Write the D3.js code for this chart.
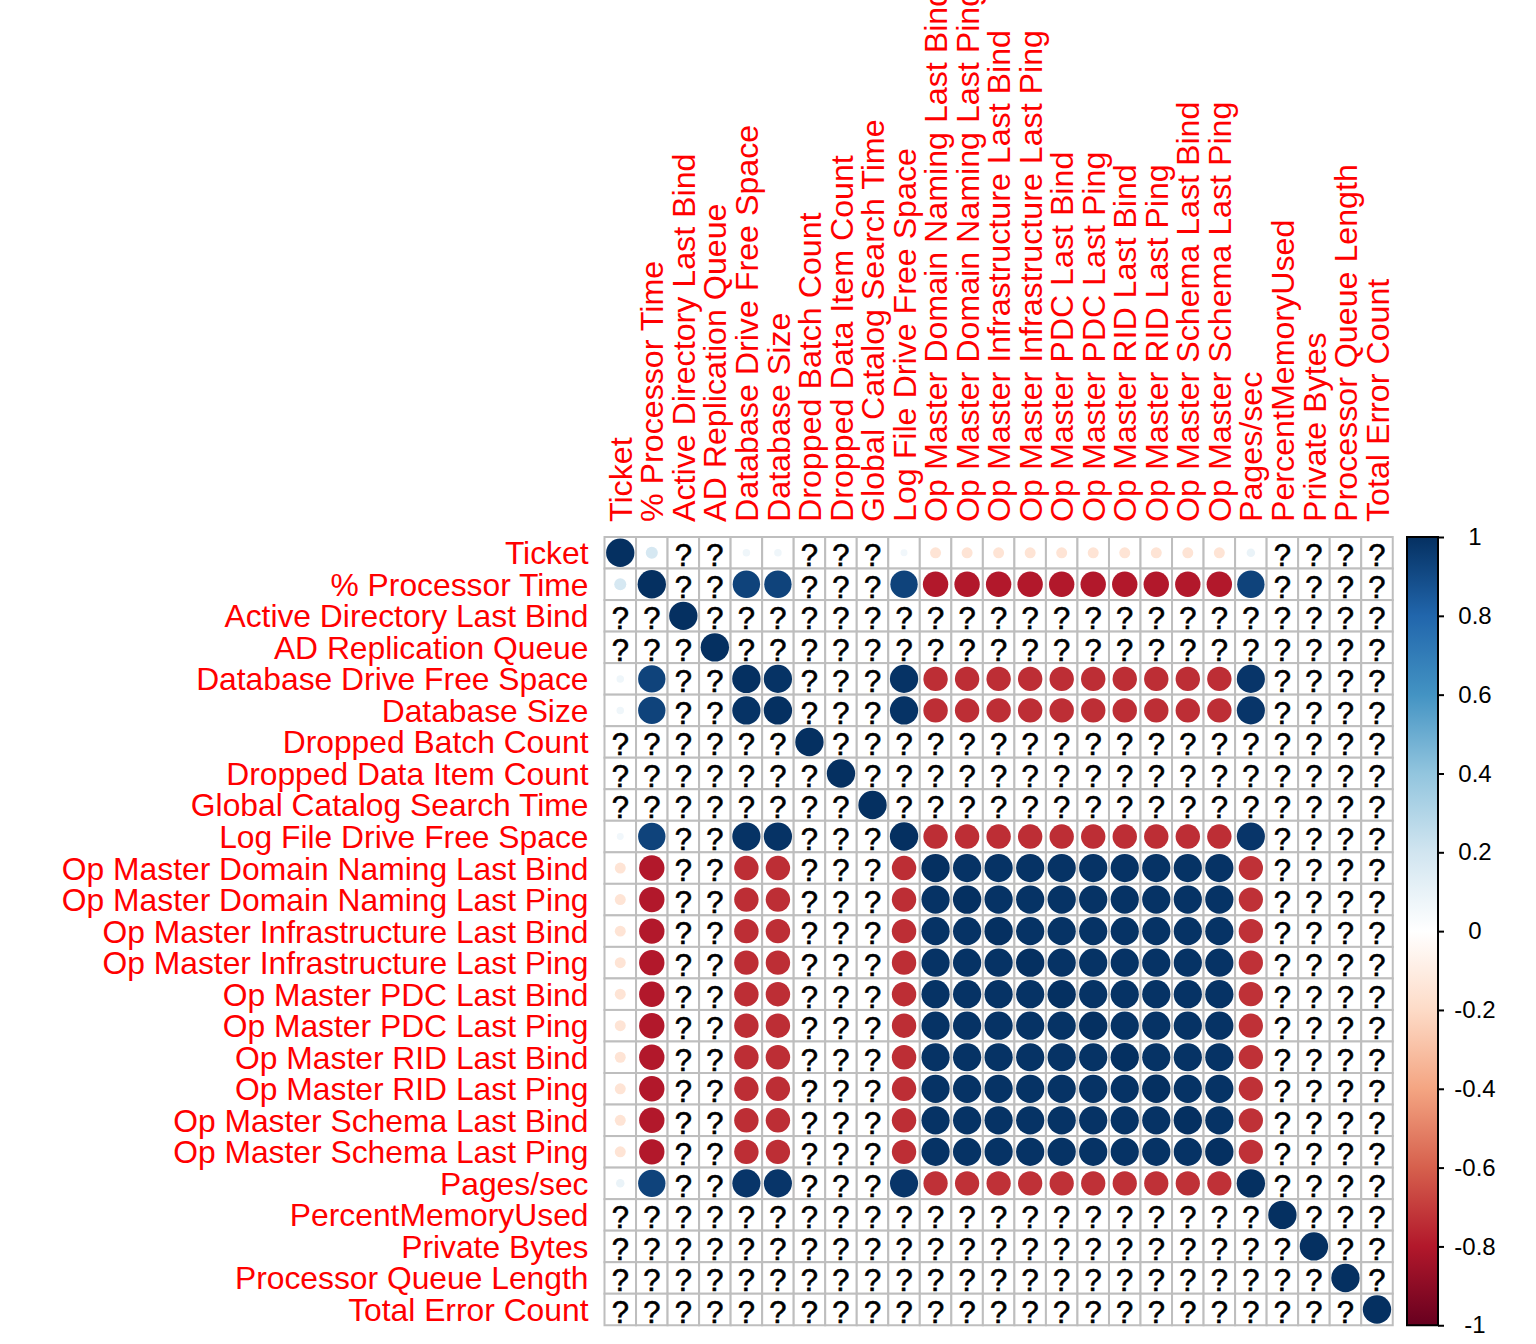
<!DOCTYPE html>
<html>
<head>
<meta charset="utf-8">
<script src="https://cdn.jsdelivr.net/npm/d3@7"></script>
<style>
  html, body { margin: 0; padding: 0; background: #ffffff; }
  svg { display: block; }
</style>
</head>
<body>
<div id="chart"></div>
<script>
// ---------------- DATA ----------------
const variables = [
  "Ticket", "% Processor Time", "Active Directory Last Bind", "AD Replication Queue",
  "Database Drive Free Space", "Database Size", "Dropped Batch Count", "Dropped Data Item Count",
  "Global Catalog Search Time", "Log File Drive Free Space",
  "Op Master Domain Naming Last Bind", "Op Master Domain Naming Last Ping",
  "Op Master Infrastructure Last Bind", "Op Master Infrastructure Last Ping",
  "Op Master PDC Last Bind", "Op Master PDC Last Ping",
  "Op Master RID Last Bind", "Op Master RID Last Ping",
  "Op Master Schema Last Bind", "Op Master Schema Last Ping",
  "Pages/sec", "PercentMemoryUsed", "Private Bytes", "Processor Queue Length", "Total Error Count"
];

const N = null; // correlation could not be computed (drawn as "?")
const corrRows = [
  [ 1.00, 0.18, N, N, 0.07, 0.07, N, N, N, 0.06, -0.15,-0.15,-0.15,-0.15,-0.15,-0.15,-0.15,-0.15,-0.15,-0.15, 0.09, N, N, N, N],
  [ 0.18, 1.00, N, N, 0.93, 0.93, N, N, N, 0.93, -0.80,-0.80,-0.80,-0.80,-0.80,-0.80,-0.80,-0.80,-0.80,-0.80, 0.93, N, N, N, N],
  [ N, N, 1.00, N, N, N, N, N, N, N, N, N, N, N, N, N, N, N, N, N, N, N, N, N, N],
  [ N, N, N, 1.00, N, N, N, N, N, N, N, N, N, N, N, N, N, N, N, N, N, N, N, N, N],
  [ 0.07, 0.93, N, N, 1.00, 0.99, N, N, N, 0.99, -0.74,-0.74,-0.74,-0.74,-0.74,-0.74,-0.74,-0.74,-0.74,-0.74, 0.98, N, N, N, N],
  [ 0.07, 0.93, N, N, 0.99, 1.00, N, N, N, 0.99, -0.74,-0.74,-0.74,-0.74,-0.74,-0.74,-0.74,-0.74,-0.74,-0.74, 0.98, N, N, N, N],
  [ N, N, N, N, N, N, 1.00, N, N, N, N, N, N, N, N, N, N, N, N, N, N, N, N, N, N],
  [ N, N, N, N, N, N, N, 1.00, N, N, N, N, N, N, N, N, N, N, N, N, N, N, N, N, N],
  [ N, N, N, N, N, N, N, N, 1.00, N, N, N, N, N, N, N, N, N, N, N, N, N, N, N, N],
  [ 0.06, 0.93, N, N, 0.99, 0.99, N, N, N, 1.00, -0.74,-0.74,-0.74,-0.74,-0.74,-0.74,-0.74,-0.74,-0.74,-0.74, 0.98, N, N, N, N],
  [-0.15,-0.80, N, N,-0.74,-0.74, N, N, N,-0.74,  1.00, 0.99, 0.99, 0.99, 0.99, 0.99, 0.99, 0.99, 0.99, 0.99,-0.73, N, N, N, N],
  [-0.15,-0.80, N, N,-0.74,-0.74, N, N, N,-0.74,  0.99, 1.00, 0.99, 0.99, 0.99, 0.99, 0.99, 0.99, 0.99, 0.99,-0.73, N, N, N, N],
  [-0.15,-0.80, N, N,-0.74,-0.74, N, N, N,-0.74,  0.99, 0.99, 1.00, 0.99, 0.99, 0.99, 0.99, 0.99, 0.99, 0.99,-0.73, N, N, N, N],
  [-0.15,-0.80, N, N,-0.74,-0.74, N, N, N,-0.74,  0.99, 0.99, 0.99, 1.00, 0.99, 0.99, 0.99, 0.99, 0.99, 0.99,-0.73, N, N, N, N],
  [-0.15,-0.80, N, N,-0.74,-0.74, N, N, N,-0.74,  0.99, 0.99, 0.99, 0.99, 1.00, 0.99, 0.99, 0.99, 0.99, 0.99,-0.73, N, N, N, N],
  [-0.15,-0.80, N, N,-0.74,-0.74, N, N, N,-0.74,  0.99, 0.99, 0.99, 0.99, 0.99, 1.00, 0.99, 0.99, 0.99, 0.99,-0.73, N, N, N, N],
  [-0.15,-0.80, N, N,-0.74,-0.74, N, N, N,-0.74,  0.99, 0.99, 0.99, 0.99, 0.99, 0.99, 1.00, 0.99, 0.99, 0.99,-0.73, N, N, N, N],
  [-0.15,-0.80, N, N,-0.74,-0.74, N, N, N,-0.74,  0.99, 0.99, 0.99, 0.99, 0.99, 0.99, 0.99, 1.00, 0.99, 0.99,-0.73, N, N, N, N],
  [-0.15,-0.80, N, N,-0.74,-0.74, N, N, N,-0.74,  0.99, 0.99, 0.99, 0.99, 0.99, 0.99, 0.99, 0.99, 1.00, 0.99,-0.73, N, N, N, N],
  [-0.15,-0.80, N, N,-0.74,-0.74, N, N, N,-0.74,  0.99, 0.99, 0.99, 0.99, 0.99, 0.99, 0.99, 0.99, 0.99, 1.00,-0.73, N, N, N, N],
  [ 0.09, 0.93, N, N, 0.98, 0.98, N, N, N, 0.98, -0.73,-0.73,-0.73,-0.73,-0.73,-0.73,-0.73,-0.73,-0.73,-0.73, 1.00, N, N, N, N],
  [ N, N, N, N, N, N, N, N, N, N, N, N, N, N, N, N, N, N, N, N, N, 1.00, N, N, N],
  [ N, N, N, N, N, N, N, N, N, N, N, N, N, N, N, N, N, N, N, N, N, N, 1.00, N, N],
  [ N, N, N, N, N, N, N, N, N, N, N, N, N, N, N, N, N, N, N, N, N, N, N, 1.00, N],
  [ N, N, N, N, N, N, N, N, N, N, N, N, N, N, N, N, N, N, N, N, N, N, N, N, 1.00]
];

const paletteColors = ["#67001F", "#B2182B", "#D6604D", "#F4A582", "#FDDBC7", "#FFFFFF",
                       "#D1E5F0", "#92C5DE", "#4393C3", "#2166AC", "#053061"];
const legendTicks = [-1, -0.8, -0.6, -0.4, -0.2, 0, 0.2, 0.4, 0.6, 0.8, 1];
const naLabel = "?";

// ---------------- LAYOUT ----------------
const W = 1536, H = 1344;
const gridLeft = 604.5, gridTop = 537, cell = 31.53;
const nVar = variables.length;
const gridSize = cell * nVar;
const fontFam = "'Liberation Sans', Arial, Helvetica, sans-serif";
const rowLabelSize = 31.8;
const colLabelSize = 32.2;

const svg = d3.select("#chart").append("svg")
  .attr("width", W).attr("height", H)
  .style("overflow", "hidden");

svg.append("rect").attr("width", W).attr("height", H).attr("fill", "#ffffff");

const x = d3.scaleBand().domain(variables).range([gridLeft, gridLeft + gridSize]).padding(0);
const y = d3.scaleBand().domain(variables).range([gridTop, gridTop + gridSize]).padding(0);
const color = d3.scaleLinear()
  .domain(d3.range(paletteColors.length).map(i => -1 + 2 * i / (paletteColors.length - 1)))
  .range(paletteColors)
  .interpolate(d3.interpolateRgb)
  .clamp(true);
const rScale = d3.scaleSqrt().domain([0, 1]).range([0, 0.45 * x.bandwidth()]);

const cells = [];
corrRows.forEach((row, i) => row.forEach((v, j) => cells.push({ row: variables[i], col: variables[j], v })));

// cell backgrounds + grid lines
const g = svg.append("g");
g.selectAll("rect.cell").data(cells).join("rect")
  .attr("class", "cell")
  .attr("x", d => x(d.col)).attr("y", d => y(d.row))
  .attr("width", x.bandwidth()).attr("height", y.bandwidth())
  .attr("fill", "#ffffff").attr("stroke", "#bebebe").attr("stroke-width", 2);

// circles
g.selectAll("circle").data(cells.filter(d => d.v !== null)).join("circle")
  .attr("cx", d => x(d.col) + x.bandwidth() / 2)
  .attr("cy", d => y(d.row) + y.bandwidth() / 2)
  .attr("r", d => rScale(Math.abs(d.v)))
  .attr("fill", d => color(d.v));

// NA marks
g.selectAll("text.na").data(cells.filter(d => d.v === null)).join("text")
  .attr("class", "na")
  .attr("x", d => x(d.col) + x.bandwidth() / 2)
  .attr("y", d => y(d.row) + y.bandwidth() / 2)
  .attr("dy", "0.43em")
  .attr("text-anchor", "middle")
  .attr("font-family", fontFam).attr("font-size", 31)
  .attr("stroke", "#000000").attr("stroke-width", 0.6)
  .attr("fill", "#000000")
  .text(naLabel);

// row labels
svg.append("g").selectAll("text").data(variables).join("text")
  .attr("x", gridLeft - 16)
  .attr("y", d => y(d) + y.bandwidth() / 2)
  .attr("dy", "0.36em")
  .attr("text-anchor", "end")
  .attr("font-family", fontFam).attr("font-size", rowLabelSize)
  .attr("fill", "#ff0000")
  .text(d => d);

// column labels
svg.append("g").selectAll("text").data(variables).join("text")
  .attr("transform", d => `translate(${x(d) + x.bandwidth() / 2},${gridTop - 15}) rotate(-90)`)
  .attr("dy", "0.36em")
  .attr("text-anchor", "start")
  .attr("font-family", fontFam).attr("font-size", colLabelSize)
  .attr("fill", "#ff0000")
  .text(d => d);

// ---------------- COLOUR LEGEND ----------------
const legX = 1407, legW = 31;
const ly = d3.scaleLinear().domain([-1, 1]).range([gridTop + gridSize, gridTop]);
const defs = svg.append("defs");
const grad = defs.append("linearGradient").attr("id", "corrGrad")
  .attr("x1", 0).attr("y1", 1).attr("x2", 0).attr("y2", 0);
grad.selectAll("stop").data(paletteColors).join("stop")
  .attr("offset", (d, i) => i / (paletteColors.length - 1))
  .attr("stop-color", d => d);

svg.append("rect")
  .attr("x", legX).attr("y", ly(1))
  .attr("width", legW).attr("height", ly(-1) - ly(1))
  .attr("fill", "url(#corrGrad)")
  .attr("stroke", "#000000").attr("stroke-width", 2);

const legAxis = d3.axisRight(ly).tickValues(legendTicks).tickSize(6).tickPadding(0)
  .tickFormat(d => d3.format("")(d).replace("−", "-"));
const axG = svg.append("g").attr("transform", `translate(${legX + legW},0)`).call(legAxis);
axG.select(".domain").remove();
axG.selectAll(".tick line").attr("stroke", "#000000").attr("stroke-width", 2);
axG.selectAll(".tick text")
  .attr("x", 37).attr("text-anchor", "middle")
  .attr("font-family", fontFam).attr("font-size", 24)
  .attr("fill", "#000000");
</script>
</body>
</html>
